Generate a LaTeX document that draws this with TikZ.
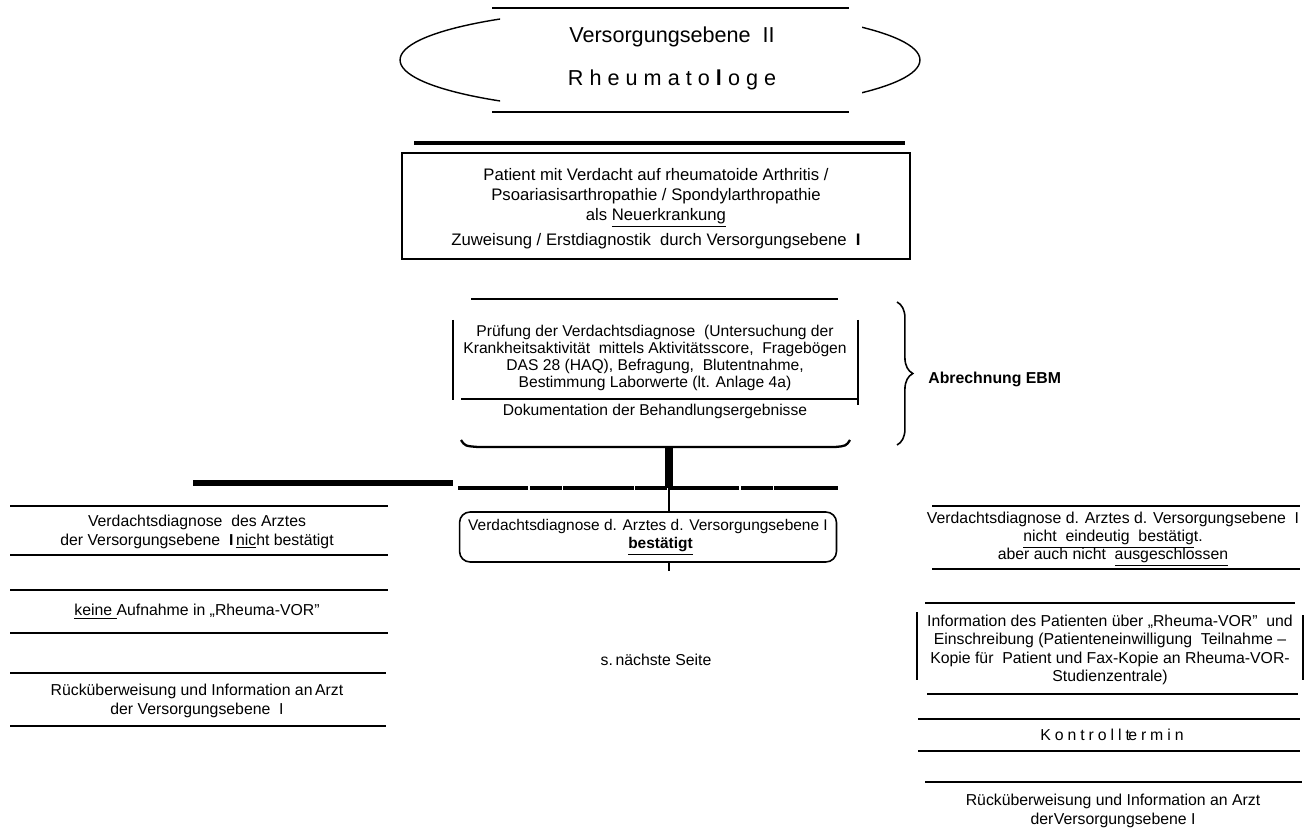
\documentclass[tikz,border=0pt]{standalone}
\usepackage{fontspec}
\setmainfont{Liberation Sans}
\usetikzlibrary{shapes.geometric,decorations.pathreplacing}
\begin{document}
\begin{tikzpicture}[x=0.02cm, y=-0.02cm,
    txt/.style={align=center, font=\fontsize{9}{10.4}\selectfont, inner sep=0pt},
    small/.style={align=center, font=\fontsize{8.9}{9.6}\selectfont, inner sep=0pt},
    big/.style={align=center, font=\fontsize{12.3}{14}\selectfont, inner sep=0pt},
    rule/.style={line width=0.8pt},
    heavy/.style={line width=2.2pt},
    stem/.style={line width=4.5pt}
]
    \useasboundingbox (0,0) rectangle (1307,837);

    % Versorgungsebene II
    \node[ellipse, minimum width=10.4cm, minimum height=2.08cm] (level) at (660,60) {};
    \begin{scope}
        \clip (380,0) rectangle (500,130) (862,0) rectangle (940,130);
        \draw[rule] (level.center) ellipse [x radius=5.2cm, y radius=1.04cm];
    \end{scope}
    \draw[rule] (492,8) -- (849,8);
    \draw[rule] (492,112) -- (849,112);
    \node[big] (levelname) at (672,37) {Versorgungsebene\ \ II};
    \node[big] (rheuma) at (672,80) {\addfontfeature{LetterSpace=28}Rheumato\textbf{l}oge};

    \draw[heavy] (414,143) -- (905,143);

    \node[draw, rule, minimum width=10.16cm, minimum height=2.12cm] (patient) at (656,206) {};
    \node[txt, font=\fontsize{9.5}{11.3}\selectfont] (patienttext) at (656,209)
        {Patient mit Verdacht auf rheumatoide Arthritis /\\
         Psoariasisarthropathie / Spondylarthropathie\\
         als \underline{Neuerkrankung}\\[3pt]
         Zuweisung / Erstdiagnostik\ \ durch Versorgungsebene\ \ \textbf{I}};

    % Pruefung
    \draw[rule] (471,299) -- (838,299);
    \draw[rule] (453,320) -- (453,400);
    \draw[rule] (858,320) -- (858,405);
    \node[small] (check) at (655,358)
        {Prüfung der Verdachtsdiagnose\ \ (Untersuchung der\\
         Krankheitsaktivität\ \ mittels Aktivitätsscore,\ \ Fragebögen\\
         DAS 28 (HAQ), Befragung,\ \ Blutentnahme,\\
         Bestimmung Laborwerte (lt. Anlage 4a)};
    \draw[line width=1.3pt] (461,399) -- (858,399);
    \node[small] (docu) at (655,411) {Dokumentation der Behandlungsergebnisse};
    \draw[line width=1.3pt] (461,440) .. controls (465,446) .. (478,447) -- (835,447) .. controls (846,446) .. (850,440);
    \coordinate (checkbot) at (669,447);

    \draw[decorate, decoration={brace, amplitude=9pt}, line width=0.9pt] (897,302) -- (897,445);
    \node[font=\fontsize{9}{10}\selectfont\bfseries, anchor=west, inner sep=0pt] (ebm) at (928,379) {Abrechnung EBM};

    % Verzweigung
    \coordinate (busL) at (458,488);
    \coordinate (busC) at (669,488);
    \coordinate (busR) at (838,488);
    \draw[stem] (checkbot) -- (busC);
    \draw[line width=2pt, dash pattern=on 40pt off 1pt on 18pt off 1pt] (busL) -- (busR);
    \draw[line width=3pt] (193,483) -- (453,483);

    \node[txt, font=\fontsize{8.8}{10.4}\selectfont, draw, line width=0.9pt, rounded corners=6pt, minimum width=7.54cm, minimum height=1cm] (confirmed) at (648,537)
        {Verdachtsdiagnose d. Arztes d. Versorgungsebene I\\
         \hspace*{0.5cm}\underline{\textbf{bestätigt}}};
    \draw[line width=1.2pt] (busC) -- (busC |- confirmed.north);
    \draw[line width=0.8pt] (busC |- confirmed.south) -- ++(0,8);

    \node[txt] (nextpage) at (656,660) {s.\,nächste Seite};

    % links
    \draw[rule] (10,506) -- (388,506);
    \node[txt] (notconf) at (197,532)
        {Verdachtsdiagnose\ \ des Arztes\\
         der Versorgungsebene\ \ \textbf{I}\,\underline{nic}ht bestätigt};
    \draw[rule] (10,555) -- (388,555);
    \draw[rule] (10,590) -- (388,590);
    \node[txt] (noentry) at (197,612) {\underline{keine }Aufnahme in „Rheuma-VOR\char"22};
    \draw[rule] (10,633) -- (388,633);
    \draw[rule] (10,673) -- (386,673);
    \node[txt] (backleft) at (197,701)
        {Rücküberweisung und Information an\,Arzt\\
         der Versorgungsebene\ \ I};
    \draw[rule] (10,726) -- (386,726);

    % rechts
    \draw[rule] (932,506) -- (1300,506);
    \node[txt] (unclear) at (1113,539)
        {Verdachtsdiagnose d. Arztes d. Versorgungsebene\ \ I\\
         \underline{nicht\ \ eindeutig\ \ bestätig}t.\\
         aber auch nicht\ \ \underline{ausgeschlossen}};
    \draw[rule] (932,569) -- (1300,569);
    \draw[rule] (925,603) -- (1295,603);
    \draw[rule] (917,612) -- (917,680);
    \draw[rule] (1303,615) -- (1303,680);
    \node[txt] (inform) at (1110,650)
        {Information des Patienten über „Rheuma-VOR\char"22\ \ und\\
         Einschreibung (Patienteneinwilligung\ \ Teilnahme –\\
         Kopie für\ \ Patient und Fax-Kopie an Rheuma-VOR-\\
         Studienzentrale)};
    \draw[rule] (927,694) -- (1298,694);
    \draw[rule] (918,719) -- (1300,719);
    \node[txt] (control) at (1112,735) {\addfontfeature{LetterSpace=25}Kontrollt\kern-1ptermin};
    \draw[rule] (918,751) -- (1300,751);
    \draw[rule] (925,782) -- (1302,782);
    \node[txt] (backright) at (1113,811)
        {Rücküberweisung und Information an Arzt\\
         der\kern0.3ptVersorgungsebene I};
\end{tikzpicture}
\end{document}
